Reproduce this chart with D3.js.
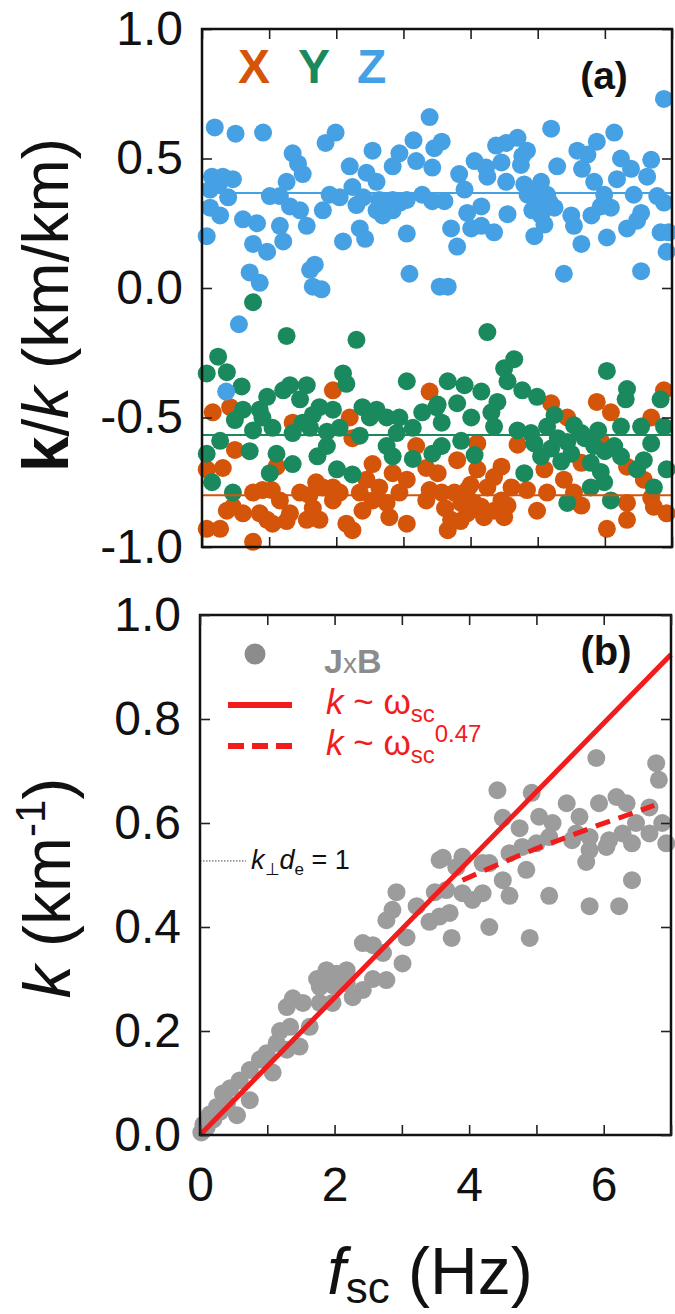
<!DOCTYPE html>
<html><head><meta charset="utf-8">
<script src="https://cdn.jsdelivr.net/npm/d3@7"></script>
<style>
html,body{margin:0;padding:0;background:#fff;}
svg{display:block;font-family:"Liberation Sans",Arial,Helvetica,sans-serif;}
</style></head>
<body>
<svg id="chart" width="675" height="1314"></svg>
<script>
// ---------- DATA ----------
// Panel (a): direction cosines of k vs f_sc (Hz)
const seriesNames = ["X", "Y", "Z"];
const seriesColors = ["#d4540a", "#1a8a5e", "#46a1e4"];
const meanValues = [-0.80, -0.568, 0.367];

const dataX = [
[1.95,-0.395],[3.39,-0.40],[0.16,-0.48],[0.42,-0.46],[1.35,-0.52],[2.20,-0.50],[2.24,-0.58],[3.19,-0.61],
[0.49,-0.625],[1.11,-0.69],[0.07,-0.70],[0.31,-0.695],[2.54,-0.68],[2.84,-0.715],[3.34,-0.695],[0.76,-0.79],
[1.04,-0.78],[1.46,-0.79],[1.70,-0.75],[1.95,-0.77],[2.35,-0.79],[2.64,-0.77],[2.94,-0.79],[3.05,-0.74],
[3.39,-0.78],[1.16,-0.82],[1.95,-0.82],[2.75,-0.83],[3.34,-0.82],[0.37,-0.86],[0.61,-0.87],[0.86,-0.87],
[1.31,-0.87],[1.65,-0.85],[2.39,-0.86],[1.05,-0.91],[1.26,-0.90],[1.56,-0.895],[1.75,-0.895],[0.97,-0.895],
[0.07,-0.93],[0.27,-0.93],[2.15,-0.91],[2.24,-0.935],[3.05,-0.91],[0.76,-0.98],[0.46,-0.845],[2.79,-0.885],
[2.54,-0.82],[1.80,-0.77],[2.05,-0.79],[1.60,-0.80],[2.45,-0.74],[0.90,-0.78],
[6.88,-0.395],[5.88,-0.44],[5.20,-0.445],[6.09,-0.48],[5.44,-0.50],[6.69,-0.50],[4.10,-0.60],[4.70,-0.605],
[5.94,-0.59],[3.80,-0.665],[3.51,-0.715],[4.10,-0.70],[4.46,-0.69],[4.35,-0.73],[5.10,-0.70],[5.65,-0.675],
[5.39,-0.74],[6.33,-0.69],[6.58,-0.74],[3.57,-0.79],[3.76,-0.79],[3.95,-0.78],[4.25,-0.77],[4.61,-0.77],
[4.84,-0.78],[5.14,-0.79],[5.54,-0.79],[6.33,-0.83],[6.69,-0.81],[3.86,-0.83],[4.16,-0.845],[4.46,-0.82],
[5.65,-0.84],[4.99,-0.86],[6.73,-0.845],[3.71,-0.895],[3.95,-0.87],[4.20,-0.885],[4.50,-0.885],[3.66,-0.935],
[6.33,-0.895],[6.03,-0.93],[6.92,-0.87],[3.62,-0.85],[3.85,-0.90],[4.05,-0.83],[4.35,-0.86],[4.55,-0.84],
[4.00,-0.76]
];

const dataY = [
[0.76,-0.055],[1.26,-0.185],[2.30,-0.20],[0.24,-0.265],[0.07,-0.33],[0.37,-0.325],[0.59,-0.38],[2.10,-0.33],
[2.15,-0.37],[3.05,-0.36],[0.97,-0.42],[1.21,-0.395],[1.31,-0.375],[1.56,-0.375],[1.46,-0.43],[0.61,-0.47],
[0.49,-0.51],[0.86,-0.47],[1.75,-0.46],[1.95,-0.47],[1.65,-0.49],[2.39,-0.46],[2.60,-0.47],[2.75,-0.50],
[2.94,-0.50],[3.28,-0.48],[3.49,-0.46],[0.76,-0.55],[1.05,-0.54],[1.35,-0.56],[1.61,-0.54],[1.86,-0.555],
[2.05,-0.54],[2.35,-0.57],[3.14,-0.54],[0.27,-0.59],[0.07,-0.64],[0.71,-0.63],[1.11,-0.64],[1.86,-0.61],
[1.72,-0.65],[2.75,-0.61],[2.84,-0.65],[3.14,-0.66],[3.43,-0.64],[1.35,-0.68],[2.01,-0.70],[2.24,-0.72],
[1.01,-0.715],[0.15,-0.75],[0.46,-0.79],[2.50,-0.50],[2.90,-0.56],[1.50,-0.52],[0.90,-0.50],
[4.25,-0.17],[4.65,-0.275],[4.50,-0.31],[4.55,-0.36],[3.66,-0.36],[3.91,-0.375],[4.16,-0.40],[4.77,-0.395],
[4.99,-0.42],[6.03,-0.32],[6.33,-0.39],[6.31,-0.43],[6.83,-0.43],[3.51,-0.45],[3.80,-0.445],[4.40,-0.44],
[4.31,-0.48],[4.01,-0.50],[5.25,-0.49],[3.57,-0.52],[4.35,-0.535],[4.70,-0.55],[5.14,-0.535],[5.54,-0.53],
[5.65,-0.56],[6.24,-0.535],[6.54,-0.535],[6.88,-0.535],[3.86,-0.59],[4.95,-0.60],[5.20,-0.62],[5.44,-0.595],
[5.84,-0.61],[6.14,-0.61],[6.69,-0.60],[3.57,-0.61],[4.06,-0.645],[5.35,-0.67],[5.79,-0.675],[6.24,-0.65],
[6.58,-0.665],[4.80,-0.715],[5.94,-0.71],[6.48,-0.70],[6.92,-0.70],[5.79,-0.77],[5.99,-0.75],[6.73,-0.77],
[5.44,-0.83],[6.09,-0.82],[4.90,-0.56],[5.05,-0.65],[5.30,-0.58],[5.50,-0.64],[5.70,-0.58],[5.90,-0.55],
[6.00,-0.63]
];

const dataZ = [
[0.19,0.62],[0.50,0.596],[0.91,0.60],[3.39,0.66],[1.99,0.60],[1.84,0.56],[1.35,0.52],[1.43,0.48],
[1.50,0.44],[2.54,0.53],[2.94,0.52],[3.15,0.57],[3.46,0.54],[2.84,0.47],[3.19,0.49],[3.43,0.465],
[2.20,0.47],[2.45,0.445],[2.60,0.41],[2.24,0.39],[0.15,0.43],[0.31,0.43],[0.46,0.42],[0.12,0.38],
[0.39,0.35],[1.26,0.41],[1.01,0.355],[1.16,0.355],[1.31,0.315],[1.46,0.30],[1.56,0.24],[1.90,0.36],
[2.05,0.35],[1.80,0.30],[2.30,0.32],[2.64,0.34],[2.84,0.34],[3.05,0.34],[3.28,0.36],[3.43,0.335],
[2.69,0.28],[2.84,0.30],[0.12,0.31],[0.27,0.28],[0.61,0.265],[0.82,0.25],[1.16,0.24],[0.07,0.20],
[0.76,0.17],[0.97,0.14],[1.21,0.18],[2.10,0.18],[2.35,0.23],[2.43,0.19],[3.05,0.21],[0.71,0.06],
[0.86,0.02],[1.68,0.09],[1.61,0.07],[1.65,0.005],[1.78,-0.005],[3.09,0.055],[0.55,-0.14],[3.54,0.005],
[0.36,-0.40],[2.75,0.33],[2.95,0.33],[2.60,0.30],[0.25,0.40],[2.40,0.35],
[6.88,0.73],[5.20,0.615],[6.14,0.60],[3.57,0.565],[5.88,0.565],[4.38,0.55],[4.53,0.56],[4.70,0.58],
[4.84,0.53],[5.59,0.53],[5.74,0.515],[6.24,0.50],[6.69,0.495],[4.06,0.49],[4.23,0.465],[4.46,0.485],
[4.75,0.475],[5.29,0.47],[5.66,0.46],[6.39,0.46],[3.83,0.44],[4.25,0.43],[4.53,0.41],[4.80,0.40],
[5.05,0.41],[5.84,0.41],[6.18,0.42],[6.63,0.43],[3.91,0.38],[4.95,0.37],[5.14,0.36],[5.99,0.36],
[6.43,0.36],[6.78,0.355],[3.61,0.335],[4.99,0.33],[5.25,0.31],[5.94,0.315],[6.09,0.31],[6.88,0.33],
[3.95,0.29],[4.16,0.315],[4.55,0.285],[5.05,0.28],[5.50,0.28],[5.80,0.28],[6.54,0.29],[3.71,0.23],
[4.01,0.23],[4.16,0.24],[4.35,0.215],[5.10,0.245],[5.54,0.24],[6.33,0.23],[6.48,0.26],[6.83,0.215],
[4.95,0.20],[5.65,0.17],[6.03,0.195],[6.92,0.14],[3.80,0.16],[5.39,0.055],[6.54,0.065],[3.66,0.005],
[6.95,0.215],[4.77,0.51],[4.85,0.36],[4.92,0.30],[5.02,0.345],[5.18,0.33]
];

// Panel (b): k (km^-1) vs f_sc (Hz), J x B
const dataJxB = [
[0.02,0.005],[0.10,0.015],[0.20,0.03],[0.30,0.045],[0.40,0.06],
[0.55,0.038],[0.74,0.067],[0.34,0.08],[0.15,0.04],[0.05,0.02],[0.25,0.054],[0.45,0.09],[0.59,0.105],
[0.74,0.125],[0.89,0.145],[1.08,0.12],[0.99,0.157],[1.14,0.177],[1.29,0.164],[1.48,0.17],[1.19,0.20],
[1.34,0.208],[1.63,0.208],[1.29,0.246],[1.38,0.263],[1.53,0.254],[1.78,0.254],[1.97,0.254],[1.74,0.30],
[1.88,0.317],[2.03,0.31],[2.18,0.317],[1.78,0.285],[1.97,0.288],[2.18,0.292],[2.27,0.265],[2.42,0.279],
[2.57,0.30],[2.77,0.298],[2.42,0.369],[2.57,0.365],[2.72,0.35],[3.01,0.33],[3.07,0.38],[2.77,0.413],
[2.86,0.433],[2.92,0.467],[3.22,0.44],[3.41,0.41],[3.56,0.42],[3.71,0.427],[3.74,0.379],[3.49,0.467],
[3.66,0.471],[3.90,0.465],[4.05,0.452],[4.20,0.465],[4.30,0.40],[4.50,0.49],[4.60,0.46],[4.85,0.51],
[4.90,0.379],[5.19,0.46],[5.74,0.525],[5.79,0.44],[6.23,0.44],[6.42,0.49],[3.56,0.529],[3.81,0.515],
[4.30,0.523],
[5.89,0.725],[4.42,0.663],[4.93,0.658],[6.78,0.715],[6.82,0.683],[4.50,0.61],[4.75,0.59],[5.04,0.612],
[5.24,0.60],[5.45,0.638],[5.64,0.612],[5.93,0.638],[6.19,0.65],[6.34,0.638],[6.68,0.63],[6.48,0.60],
[6.68,0.58],[6.87,0.60],[5.79,0.573],[6.08,0.567],[5.19,0.573],[5.53,0.567],[5.00,0.561],[4.60,0.542],
[4.79,0.554],[5.79,0.548],[6.04,0.554],[3.61,0.533],[3.90,0.535],[4.20,0.523],[6.28,0.58],[6.93,0.561],
[6.42,0.561],[5.59,0.58]
];

// fit lines: k ~ w (solid) and k ~ w^0.47 (dashed)
const linearFit = [[0, 0], [7, 0.924]];
const powerFit = [[3.9,0.490],[4.3,0.513],[4.7,0.535],[5.1,0.556],[5.5,0.575],[5.9,0.595],[6.3,0.613],[6.75,0.634]];
const kdeLevel = 0.527;

const xTicks = [0,1,2,3,4,5,6,7];
const xTickLabels = [0,2,4,6];
const yTicksA = [-1,-0.5,0,0.5,1];
const yTicksB = [0,0.2,0.4,0.6,0.8,1.0];

// ---------- DRAW ----------
const svg = d3.select("#chart");
const FONT = '"Liberation Sans",Arial,Helvetica,sans-serif';
const red = "#f21c1c";
const R = 9;

const xA = d3.scaleLinear().domain([0,7]).range([202,672]);
const yA = d3.scaleLinear().domain([-1,1]).range([547,29]);
const xB = d3.scaleLinear().domain([0,7]).range([200,671]);
const yB = d3.scaleLinear().domain([0,1]).range([1135,615]);

function styleAxis(g){
  g.select(".domain").remove();
  g.selectAll(".tick line").attr("stroke","#222").attr("stroke-width",1.6);
  g.selectAll(".tick text").attr("font-family",FONT).attr("font-size",48).attr("fill","#111");
}
function frame(x,y){
  const [y0,y1]=y.range();
  svg.append("g").attr("transform",`translate(0,${y0})`)
    .call(d3.axisBottom(x).tickValues(xTicks).tickSize(-10).tickPadding(32)
      .tickFormat(d=> (x===xB && xTickLabels.includes(d)) ? d : ""))
    .call(styleAxis);
  svg.append("g").attr("transform",`translate(0,${y1})`)
    .call(d3.axisTop(x).tickValues(xTicks).tickSize(-10).tickFormat(""))
    .call(styleAxis);
}

// ----- panel (a) -----
const gA = svg.append("g");
const seriesData = [dataX, dataY, dataZ];
seriesData.forEach((data,i)=>{
  gA.append("g").selectAll("circle").data(data).join("circle")
    .attr("cx",d=>xA(d[0])).attr("cy",d=>yA(d[1])).attr("r",R)
    .attr("fill",seriesColors[i]);
});
meanValues.forEach((m,i)=>{
  gA.append("line").attr("x1",xA(0)).attr("x2",xA(7)).attr("y1",yA(m)).attr("y2",yA(m))
    .attr("stroke",seriesColors[i]).attr("stroke-width",2);
});
frame(xA,yA);
svg.append("g").attr("transform",`translate(${xA(0)},0)`)
  .call(d3.axisLeft(yA).tickValues(yTicksA).tickSize(-10).tickPadding(19).tickFormat(d=>d.toFixed(1)))
  .call(styleAxis);
svg.append("g").attr("transform",`translate(${xA(7)},0)`)
  .call(d3.axisRight(yA).tickValues(yTicksA).tickSize(-10).tickFormat(""))
  .call(styleAxis);
svg.append("rect").attr("x",xA(0)).attr("y",yA(1)).attr("width",xA(7)-xA(0)).attr("height",yA(-1)-yA(1))
  .attr("fill","none").attr("stroke","#111").attr("stroke-width",2.5);

// legend letters X Y Z
const letterX = [238, 298, 357];
seriesNames.forEach((n,i)=>{
  svg.append("text").attr("x",letterX[i]).attr("y",83).text(n)
    .attr("font-family",FONT).attr("font-size",48).attr("font-weight","bold").attr("fill",seriesColors[i]);
});
svg.append("text").attr("x",604).attr("y",89).attr("text-anchor","middle").text("(a)")
  .attr("font-family",FONT).attr("font-size",39).attr("font-weight","bold").attr("fill","#111");

// y title (a)
const tA = svg.append("text").attr("transform","translate(68,305) rotate(-90)").attr("text-anchor","middle")
  .attr("font-family",FONT).attr("font-size",64).attr("fill","#111");
tA.append("tspan").attr("font-weight","bold").text("k");
tA.append("tspan").text("/");
tA.append("tspan").attr("font-style","italic").text("k");
tA.append("tspan").text(" (km/km)");

// ----- panel (b) -----
const gB = svg.append("g");
gB.append("g").selectAll("circle").data(dataJxB).join("circle")
  .attr("cx",d=>xB(d[0])).attr("cy",d=>yB(d[1])).attr("r",R).attr("fill","#9c9c9c");

const line = d3.line().x(d=>xB(d[0])).y(d=>yB(d[1]));
gB.append("path").datum(linearFit).attr("d",line).attr("fill","none").attr("stroke",red).attr("stroke-width",5);
gB.append("path").datum(powerFit).attr("d",line).attr("fill","none").attr("stroke",red).attr("stroke-width",5)
  .attr("stroke-dasharray","15,9");

// k_perp d_e = 1 marker
svg.append("line").attr("x1",xB(0)).attr("x2",246).attr("y1",yB(kdeLevel)).attr("y2",yB(kdeLevel))
  .attr("stroke","#444").attr("stroke-width",1).attr("stroke-dasharray","1.5,1.5");
const ann = svg.append("text").attr("x",251).attr("y",yB(kdeLevel)+8)
  .attr("font-family",FONT).attr("font-size",27).attr("fill","#111");
ann.append("tspan").attr("font-style","italic").text("k");
ann.append("tspan").attr("font-size",17).attr("dy",6).text("⊥");
ann.append("tspan").attr("font-style","italic").attr("dy",-6).text("d");
ann.append("tspan").attr("font-size",17).attr("dy",6).text("e");
ann.append("tspan").attr("dy",-6).text(" = 1");

svg.append("rect").attr("x",xB(0)).attr("y",yB(1)).attr("width",xB(7)-xB(0)).attr("height",yB(0)-yB(1))
  .attr("fill","none").attr("stroke","#111").attr("stroke-width",2.5);
frame(xB,yB);
svg.append("g").attr("transform",`translate(${xB(0)},0)`)
  .call(d3.axisLeft(yB).tickValues(yTicksB).tickSize(-10).tickPadding(19).tickFormat(d=>d.toFixed(1)))
  .call(styleAxis);
svg.append("g").attr("transform",`translate(${xB(7)},0)`)
  .call(d3.axisRight(yB).tickValues(yTicksB).tickSize(-10).tickFormat(""))
  .call(styleAxis);

// legend (b)
svg.append("circle").attr("cx",255).attr("cy",654).attr("r",10.5).attr("fill","#8c8c8c");
const lj = svg.append("text").attr("x",324).attr("y",673).attr("font-family",FONT).attr("font-size",34).attr("fill","#8c8c8c");
lj.append("tspan").attr("font-weight","bold").text("J");
lj.append("tspan").attr("font-size",28).text("x");
lj.append("tspan").attr("font-weight","bold").text("B");
svg.append("line").attr("x1",228).attr("x2",292).attr("y1",705).attr("y2",705).attr("stroke",red).attr("stroke-width",6);
svg.append("line").attr("x1",228).attr("x2",292).attr("y1",746).attr("y2",746).attr("stroke",red).attr("stroke-width",6)
  .attr("stroke-dasharray","16,8");
const l1 = svg.append("text").attr("x",326).attr("y",714).attr("font-family",FONT).attr("font-size",35).attr("fill",red);
l1.append("tspan").attr("font-style","italic").text("k");
l1.append("tspan").text(" ~ ω");
l1.append("tspan").attr("font-size",24).attr("dy",8).text("sc");
const l2 = svg.append("text").attr("x",326).attr("y",755).attr("font-family",FONT).attr("font-size",35).attr("fill",red);
l2.append("tspan").attr("font-style","italic").text("k");
l2.append("tspan").text(" ~ ω");
l2.append("tspan").attr("font-size",24).attr("dy",8).text("sc");
l2.append("tspan").attr("font-size",24).attr("dy",-21).text("0.47");

svg.append("text").attr("x",606).attr("y",665).attr("text-anchor","middle").text("(b)")
  .attr("font-family",FONT).attr("font-size",40).attr("font-weight","bold").attr("fill","#111");

// y title (b)
const tB = svg.append("text").attr("transform","translate(70,888) rotate(-90)").attr("text-anchor","middle")
  .attr("font-family",FONT).attr("font-size",66).attr("fill","#111");
tB.append("tspan").attr("font-style","italic").text("k");
tB.append("tspan").text(" (km");
tB.append("tspan").attr("font-size",42).attr("dy",-25).text("-1");
tB.append("tspan").attr("dy",25).text(")");

// x title
const tX = svg.append("text").attr("x",430).attr("y",1294).attr("text-anchor","middle")
  .attr("font-family",FONT).attr("font-size",66).attr("fill","#111");
tX.append("tspan").attr("font-style","italic").text("f");
tX.append("tspan").attr("font-size",44).attr("dy",9).text("sc");
tX.append("tspan").attr("dy",-9).text(" (Hz)");
</script>
</body></html>
